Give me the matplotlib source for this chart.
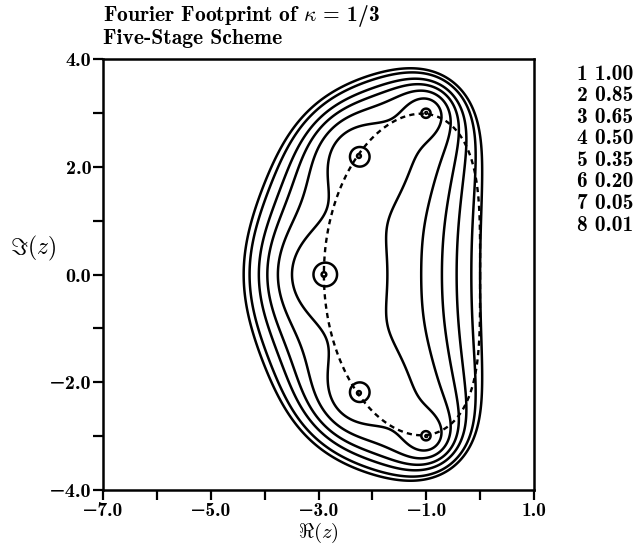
import numpy as np
import matplotlib
matplotlib.use("Agg")
import matplotlib.pyplot as plt

# ---- data ----
# zeros of the five-stage amplification polynomial P(z) (P(0)=1)
zeros_re = [-2.9, -2.25, -2.25, -1.0, -1.0]
zeros_im = [0.0, 2.2, -2.2, 3.0, -3.0]
# contour levels of |P(z)|
level_ids = [1, 2, 3, 4, 5, 6, 7, 8]
level_vals = [1.00, 0.85, 0.65, 0.50, 0.35, 0.20, 0.05, 0.01]
# Fourier footprint parameters
KAPPA = 1.0 / 3.0
CFL = 2.175
# ticks
xticks = [-7, -6, -5, -4, -3, -2, -1, 0, 1]
xticklabels = ["\u22127.0", "", "\u22125.0", "", "\u22123.0", "", "\u22121.0", "", "1.0"]
yticks = [-4, -3, -2, -1, 0, 1, 2, 3, 4]
yticklabels = ["\u22124.0", "", "\u22122.0", "", "0.0", "", "2.0", "", "4.0"]

plt.rcParams['mathtext.fontset'] = 'cm'
FAM = ['cmb10', 'DejaVu Serif']

fig = plt.figure(figsize=(6.38, 5.44), dpi=100)
ax = fig.add_axes([103/638, 1 - 490/544, 431/638, 431/544])

# field |P(z)|
x = np.linspace(-7, 1, 1201)
y = np.linspace(-4, 4, 1201)
X, Y = np.meshgrid(x, y)
Z = X + 1j * Y
P = np.ones_like(Z)
for zr, zi in zip(zeros_re, zeros_im):
    P = P * (1 - Z / complex(zr, zi))
A = np.abs(P)
ax.contour(X, Y, A, levels=sorted(level_vals), colors='black', linewidths=1.8)

# Fourier footprint of the kappa scheme
th = np.linspace(0, 2 * np.pi, 721)
e = np.exp(1j * th)
f = (1 - 1 / e) * (1 + (1 + KAPPA) / 4 * (e - 1) + (1 - KAPPA) / 4 * (1 - 1 / e))
zf = -CFL * f
ax.plot(zf.real, zf.imag, color='black', lw=1.7, linestyle=(0, (2.2, 1.8)))

ax.set_xlim(-7, 1)
ax.set_ylim(-4, 4)
ax.set_xticks(xticks)
ax.set_xticklabels(xticklabels, family=FAM, fontsize=14)
ax.set_yticks(yticks)
ax.set_yticklabels(yticklabels, family=FAM, fontsize=14.5)
ax.tick_params(direction='out', length=7, width=1.6, pad=1.5)
for s in ax.spines.values():
    s.set_linewidth(1.8)

ax.set_xlabel(r'$\Re(z)$', fontsize=15, va='center')
ax.xaxis.set_label_coords(0.5, -0.099)
ax.set_ylabel(r'$\Im(z)$', fontsize=17, rotation=0, ha='center', va='center')
ax.yaxis.set_label_coords(-0.162, 0.561)

fig.text(103/638, 1 - 21/544, r'Fourier Footprint of $\kappa$ = 1/3', family=FAM,
         fontsize=15.5, ha='left', va='baseline')
fig.text(103/638, 1 - 44/544, 'Five-Stage Scheme', family=FAM,
         fontsize=15.5, ha='left', va='baseline')

for i, (k, v) in enumerate(zip(level_ids, level_vals)):
    fig.text(577/638, 1 - (74 + i * 21.6)/544, f"{k} {v:.2f}", family=FAM,
             fontsize=15.5, ha='left', va='center')

fig.savefig('out.png', dpi=100)
